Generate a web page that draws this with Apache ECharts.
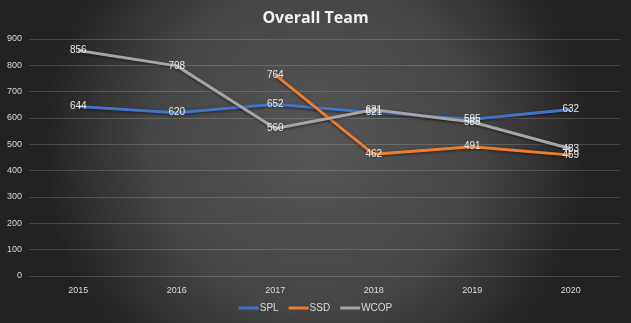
<!DOCTYPE html>
<html>
<head>
<meta charset="utf-8">
<script src="https://cdn.jsdelivr.net/npm/echarts@6/dist/echarts.min.js"></script>
<style>
  html, body { margin: 0; padding: 0; background: #2b2b2b; }
  #chart { width: 631px; height: 323px; }
</style>
</head>
<body>
<div id="chart"></div>
<script>
// Yearly team totals per programme
const years = ['2015', '2016', '2017', '2018', '2019', '2020'];
const spl  = [644, 620, 652, 621, 595, 632];
const ssd  = [null, null, 764, 462, 491, 459];
const wcop = [856, 798, 560, 631, 585, 483];
const yTicks = [0, 100, 200, 300, 400, 500, 600, 700, 800, 900];

const labelStyle = {
  show: true,
  position: 'inside',
  color: '#e8e8e8',
  fontSize: 10,
  fontFamily: 'Liberation Sans, Arial, sans-serif'
};

function lineSeries(name, data, color) {
  return {
    name: name,
    type: 'line',
    data: data,
    symbol: 'circle',
    symbolSize: 0,
    showSymbol: true,
    connectNulls: false,
    lineStyle: {
      color: color, width: 3,
      shadowColor: 'rgba(0,0,0,0.55)', shadowBlur: 3, shadowOffsetY: 1
    },
    itemStyle: { color: color },
    label: labelStyle,
    labelLayout: { hideOverlap: false },
    emphasis: { disabled: true }
  };
}

const chart = echarts.init(document.getElementById('chart'));
chart.setOption({
  backgroundColor: {
    type: 'radial', x: 0.5, y: 0.45, r: 0.85,
    colorStops: [
      { offset: 0, color: '#575757' },
      { offset: 0.6, color: '#454545' },
      { offset: 1, color: '#222222' }
    ]
  },
  animation: false,
  title: {
    text: 'Overall Team',
    left: 'center',
    top: 5,
    textStyle: {
      color: '#f2f2f2', fontSize: 16, fontWeight: 'bold',
      fontFamily: 'Open Sans, Liberation Sans, sans-serif'
    }
  },
  legend: {
    bottom: 5,
    left: 'center',
    itemWidth: 20,
    itemHeight: 3,
    itemGap: 10,
    icon: 'rect',
    textStyle: { color: '#d9d9d9', fontSize: 10, padding: [0, 0, 0, -4] },
    data: ['SPL', 'SSD', 'WCOP']
  },
  grid: { left: 29, right: 11, top: 39, bottom: 47, containLabel: false },
  xAxis: {
    type: 'category',
    data: years,
    boundaryGap: true,
    axisLine: { show: false },
    axisTick: { show: false },
    axisLabel: { color: '#d9d9d9', fontSize: 9, margin: 10 }
  },
  yAxis: {
    type: 'value',
    min: yTicks[0],
    max: yTicks[yTicks.length - 1],
    interval: 100,
    axisLine: { show: false },
    axisTick: { show: false },
    splitLine: { lineStyle: { color: 'rgba(255,255,255,0.16)', width: 1 } },
    axisLabel: { color: '#d9d9d9', fontSize: 9, margin: 7 }
  },
  series: [
    lineSeries('SPL', spl, '#4472C4'),
    lineSeries('SSD', ssd, '#ED7D31'),
    lineSeries('WCOP', wcop, '#A5A5A5')
  ]
});
</script>
</body>
</html>
